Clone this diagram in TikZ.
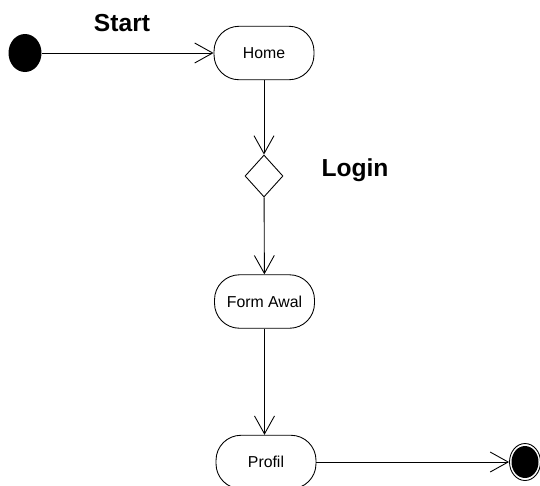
\documentclass[tikz,border=0pt]{standalone}
\usepackage{fontspec}
\setmainfont{Liberation Sans}
\usetikzlibrary{
  positioning,
  shapes.geometric,
  arrows.meta
}

\tikzset{
	activity/.style={draw, rounded corners=0.5cm, minimum width=2cm, minimum height=1.07cm, font=\fontsize{9}{11}\selectfont},
	initial/.style={ellipse, fill=black, minimum width=0.66cm, minimum height=0.76cm, inner sep=0pt},
	final/.style={ellipse, draw, line width=0.5pt, minimum width=0.62cm, minimum height=0.74cm, inner sep=0pt, fill=white},
	decision/.style={diamond, draw, minimum width=0.76cm, minimum height=0.84cm, inner sep=0pt},
	flow/.style={-{Straight Barb[length=0.36cm,width=0.4cm]}},
	caption/.style={font=\fontsize{14}{16}\bfseries}
}

\begin{document}
\begin{tikzpicture}[x=0.02cm, y=-0.02cm, line width=0.5pt]

	\useasboundingbox (0,0) rectangle (540,485);

	\node[initial] (start) at (25,53) {};
	\node[activity] (home) at (264,53) {Home};
	\node[decision] (login) at (264,176) {};
	\node[activity] (form) at (264.5,301.5) {Form Awal};
	\node[activity] (profil) at (266,462) {Profil};
	\node[final] (end) at (525,462) {};
	\fill (end.center) ellipse [x radius=0.27cm, y radius=0.32cm];

	\node[caption] (lblstart) at (122,23) {Start};
	\node[caption] (lbllogin) at (355,170) {Login};

	\draw[flow] (start) -- (home);
	\draw[flow] (home) -- (login);
	\draw[flow] (login) -- (form);
	\draw[flow] (form.south) -- (form.south |- profil.north);
	\draw[flow] (profil) -- (end);

\end{tikzpicture}
\end{document}
